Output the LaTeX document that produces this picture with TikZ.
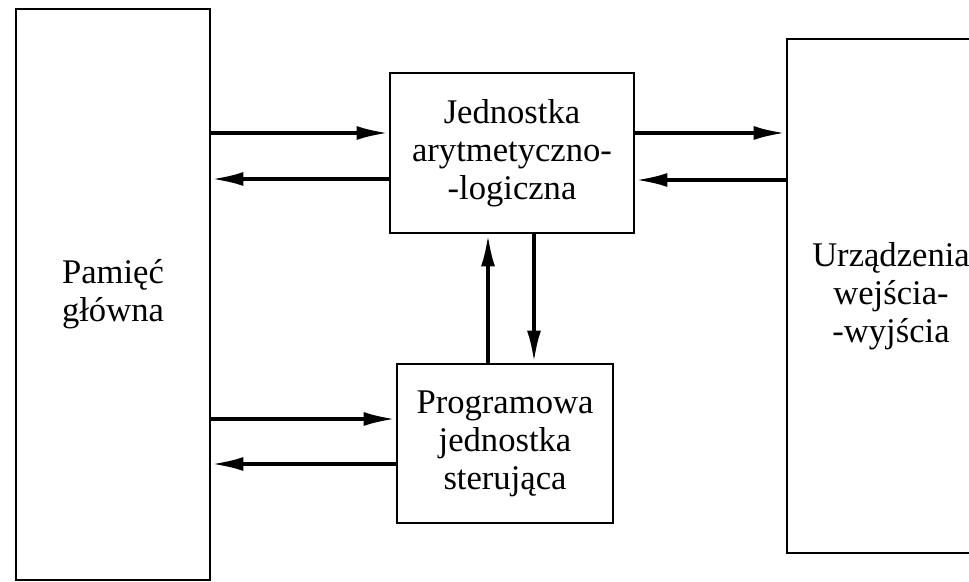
\documentclass[tikz,border=0pt]{standalone}
\usepackage{fontspec}
\setmainfont{Liberation Serif}
\usetikzlibrary{arrows.meta,calc}
\begin{document}
\begin{tikzpicture}[x=0.5pt,y=-0.5pt,
  blok/.style={draw,line width=1.4pt,inner sep=0pt,align=center,
    font=\fontsize{17.3pt}{19pt}\selectfont},
  arr/.style={line width=1.9pt,-{Latex[length=16pt,width=7pt]}}]
\useasboundingbox (0,0) rectangle (969,582);
\node[blok,minimum width=97pt,minimum height=285.5pt] (mem) at (113,294.5) {Pamięć\\główna};
\node[blok,minimum width=122pt,minimum height=80pt] (alu) at (512,153) {Jednostka\\arytmetyczno-\\-logiczna};
\node[blok,minimum width=108pt,minimum height=79.5pt] (cu) at (505,443.5) {Programowa\\jednostka\\sterująca};
\node[blok,minimum width=104pt,minimum height=257pt] (io) at (891,296) {Urządzenia\\wejścia-\\-wyjścia};
% memory <-> ALU
\coordinate (a1) at ($(alu.west)+(0,-20)$);
\coordinate (a2) at ($(alu.west)+(0,26)$);
\draw[arr] (mem.east |- a1) -- (a1);
\draw[arr] (a2) -- (mem.east |- a2);
% ALU <-> IO
\coordinate (b1) at ($(alu.east)+(0,-20)$);
\coordinate (b2) at ($(alu.east)+(0,27)$);
\draw[arr] (b1) -- (io.west |- b1);
\draw[arr] (io.west |- b2) -- (b2);
% ALU <-> CU
\coordinate (c1) at ($(alu.south)+(-24,0)$);
\coordinate (c2) at ($(alu.south)+(22,0)$);
\draw[arr] (cu.north -| c1) -- (c1);
\draw[arr] (c2) -- (cu.north -| c2);
% memory <-> CU
\coordinate (d1) at ($(cu.west)+(0,-24.5)$);
\coordinate (d2) at ($(cu.west)+(0,20.5)$);
\draw[arr] (mem.east |- d1) -- (d1);
\draw[arr] (d2) -- (mem.east |- d2);
\end{tikzpicture}
\end{document}
